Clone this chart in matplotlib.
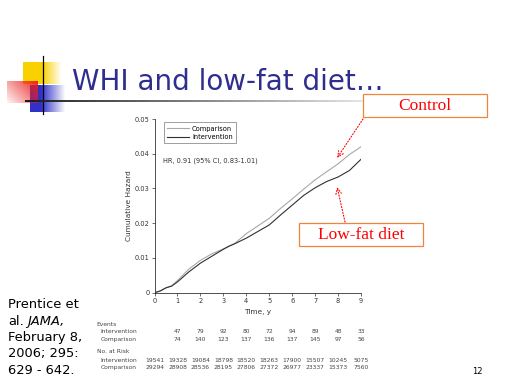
import numpy as np
import matplotlib
matplotlib.use("Agg")
import matplotlib.pyplot as plt
import matplotlib.transforms as mtransforms
from matplotlib.patches import Rectangle
from matplotlib.collections import LineCollection

# Datos (riesgo acumulado por año)
time_comp = [0, 0.25, 0.5, 0.75, 1, 1.5, 2, 2.5, 3, 3.25, 3.5, 4, 4.5, 5, 5.5, 6, 6.5, 7, 7.5, 8, 8.5, 9]
hazard_comp = [0, 0.0005, 0.0014, 0.0020, 0.0035, 0.0068, 0.0093, 0.0112, 0.0126, 0.0134, 0.0142, 0.0170,
               0.0192, 0.0214, 0.0243, 0.0270, 0.0298, 0.0325, 0.0348, 0.0371, 0.0398, 0.0420]
time_int = [0, 0.25, 0.5, 0.75, 1, 1.5, 2, 2.5, 3, 3.25, 3.5, 4, 4.5, 5, 5.5, 6, 6.5, 7, 7.5, 8, 8.5, 9]
hazard_int = [0, 0.0005, 0.0014, 0.0019, 0.0031, 0.0060, 0.0085, 0.0105, 0.0125, 0.0134, 0.0141, 0.0157,
              0.0176, 0.0195, 0.0224, 0.0252, 0.0280, 0.0302, 0.0320, 0.0333, 0.0352, 0.0384]

x_ticks = [0, 1, 2, 3, 4, 5, 6, 7, 8, 9]
y_ticks = [0, 0.01, 0.02, 0.03, 0.04, 0.05]
y_tick_labels = ["0", "0.01", "0.02", "0.03", "0.04", "0.05"]

event_years = [1, 2, 3, 4, 5, 6, 7, 8, 9]
events_int = [47, 79, 92, 80, 72, 94, 89, 48, 33]
events_comp = [74, 140, 123, 137, 136, 137, 145, 97, 56]
risk_years = [0, 1, 2, 3, 4, 5, 6, 7, 8, 9]
risk_int = [19541, 19328, 19084, 18798, 18520, 18263, 17900, 15507, 10245, 5075]
risk_comp = [29294, 28908, 28536, 28195, 27806, 27372, 26977, 23337, 15373, 7560]

TITLE = "WHI and low-fat diet…"
HR_TEXT = "HR, 0.91 (95% CI, 0.83-1.01)"

fig = plt.figure(figsize=(5.12, 3.84), dpi=100, facecolor="white")

# Capa de fondo en pixeles (decoracion de la diapositiva)
bg = fig.add_axes([0, 0, 1, 1], zorder=0)
bg.set_xlim(0, 512)
bg.set_ylim(384, 0)
bg.axis("off")


def degradado(color, w, h, alpha_fn):
    u = np.linspace(0, 1, w)[None, :]
    v = np.linspace(0, 1, h)[:, None]
    img = np.zeros((h, w, 4))
    img[..., :3] = color
    img[..., 3] = np.clip(alpha_fn(u, v), 0, 1)
    return img


yellow = degradado((0.98, 0.82, 0.0), 60, 30, lambda u, v: np.where(u < 0.5, 1.0, 1 - (u - 0.5) * 2) + 0 * v)
bg.imshow(yellow, extent=(23, 62, 84, 62), zorder=1, interpolation="bilinear", aspect="auto")
blue = degradado((0.15, 0.15, 0.78), 60, 30, lambda u, v: np.where(u < 0.3, 0.95, 0.95 - (u - 0.3) / 0.7) + 0 * v)
bg.imshow(blue, extent=(30, 67, 112, 85), zorder=2, interpolation="bilinear", aspect="auto")
red = degradado((0.92, 0.12, 0.12), 60, 30, lambda u, v: 0.05 + 0.9 * (0.6 * u + 0.4 * (1 - v)))
bg.imshow(red, extent=(7, 38, 103, 81), zorder=3, interpolation="bilinear", aspect="auto")

bg.plot([43.3, 43.3], [56, 114], color="black", lw=0.9, zorder=4)
xs = np.linspace(25, 365, 120)
segs = [[(xs[i], 100.7), (xs[i + 1], 100.7)] for i in range(len(xs) - 1)]
grises = [(g, g, g) for g in np.linspace(0.1, 0.9, len(segs))]
bg.add_collection(LineCollection(segs, colors=grises, linewidths=1.4, zorder=4))

bg.text(72, 90, TITLE, fontsize=20, color="#2E2E8F", family="DejaVu Sans", va="baseline", zorder=5)

# Cita
cita = ["Prentice et", None, "February 8,", "2006; 295:", "629 - 642."]
for i, linea in enumerate(cita):
    if linea:
        bg.text(8, 305 + i * 16.3, linea, fontsize=9.4, va="center", family="DejaVu Sans")
bg.text(8, 321.3, "al.", fontsize=9.4, va="center", family="DejaVu Sans")
bg.text(27, 321.3, "JAMA,", fontsize=9.4, va="center", family="DejaVu Sans", style="italic")

bg.text(477, 372, "12", fontsize=6, va="center", ha="center")

# Grafico principal
ax = fig.add_axes([154.5 / 512, 1 - 292.7 / 384, 206.5 / 512, 173.7 / 384], zorder=2)
ax.patch.set_alpha(0)
ax.plot(time_comp, hazard_comp, color="#a8a8a8", lw=0.8, label="Comparison")
ax.plot(time_int, hazard_int, color="#303030", lw=0.8, label="Intervention")
ax.set_xlim(0, 9)
ax.set_ylim(0, 0.05)
ax.set_xticks(x_ticks)
ax.set_yticks(y_ticks)
ax.set_yticklabels(y_tick_labels)
for s in ["top", "right"]:
    ax.spines[s].set_visible(False)
for s in ["left", "bottom"]:
    ax.spines[s].set_linewidth(0.6)
    ax.spines[s].set_color("#333333")
ax.tick_params(length=2, width=0.5, labelsize=4.8, pad=1.5, colors="#333333")
ax.set_ylabel("Cumulative Hazard", fontsize=5.3, color="#333333")
ax.yaxis.set_label_coords(-0.11, 0.5)
ax.set_xlabel("Time, y", fontsize=5.3, color="#333333")
ax.xaxis.set_label_coords(0.5, -0.094)
leg = ax.legend(loc="upper left", bbox_to_anchor=(0.03, 1.0), fontsize=4.8, frameon=True,
                fancybox=False, handlelength=3.2, handletextpad=0.5, borderpad=0.5, labelspacing=0.35)
leg.get_frame().set_edgecolor("#555555")
leg.get_frame().set_linewidth(0.5)
ax.text(0.041, 0.76, HR_TEXT, transform=ax.transAxes, fontsize=4.8, va="center", color="#333333")

# Tabla de eventos y en riesgo
tr = mtransforms.blended_transform_factory(ax.transData, bg.transData)
tabla = dict(fontsize=4.3, color="#444444", va="center")
bg.text(96.7, 325, "Events", **tabla)
bg.text(100.7, 331.7, "Intervention", **tabla)
bg.text(100.7, 339.3, "Comparison", **tabla)
bg.text(96.7, 351.7, "No. at Risk", **tabla)
bg.text(100.7, 360, "Intervention", **tabla)
bg.text(100.7, 367.7, "Comparison", **tabla)
for x, a, b in zip(event_years, events_int, events_comp):
    ax.text(x, 331.7, str(a), transform=tr, ha="center", clip_on=False, **tabla)
    ax.text(x, 339.3, str(b), transform=tr, ha="center", clip_on=False, **tabla)
for x, a, b in zip(risk_years, risk_int, risk_comp):
    ax.text(x, 360, str(a), transform=tr, ha="center", clip_on=False, **tabla)
    ax.text(x, 367.7, str(b), transform=tr, ha="center", clip_on=False, **tabla)

# Cajas de anotacion
caja = dict(facecolor="white", edgecolor="#F0843C", linewidth=0.9, zorder=6)
bg.add_patch(Rectangle((363, 94), 124, 23, **caja))
bg.text(425, 106, "Control", fontsize=12.5, color="red", family="Liberation Serif", ha="center", va="center", zorder=7)
bg.add_patch(Rectangle((299, 223), 124, 23, **caja))
bg.text(361, 235, "Low-fat diet", fontsize=12.5, color="red", family="Liberation Serif", ha="center", va="center", zorder=7)

flecha = dict(arrowstyle="->", linestyle=":", color="red", lw=0.8, shrinkA=0, shrinkB=0)
ax.annotate("", xy=(7.96, 0.0388), xycoords="data", xytext=(363, 119), textcoords=bg.transData,
            arrowprops=flecha, annotation_clip=False)
ax.annotate("", xy=(7.96, 0.0304), xycoords="data", xytext=(345, 222), textcoords=bg.transData,
            arrowprops=flecha, annotation_clip=False)

fig.savefig("out.png", dpi=100, facecolor="white")
